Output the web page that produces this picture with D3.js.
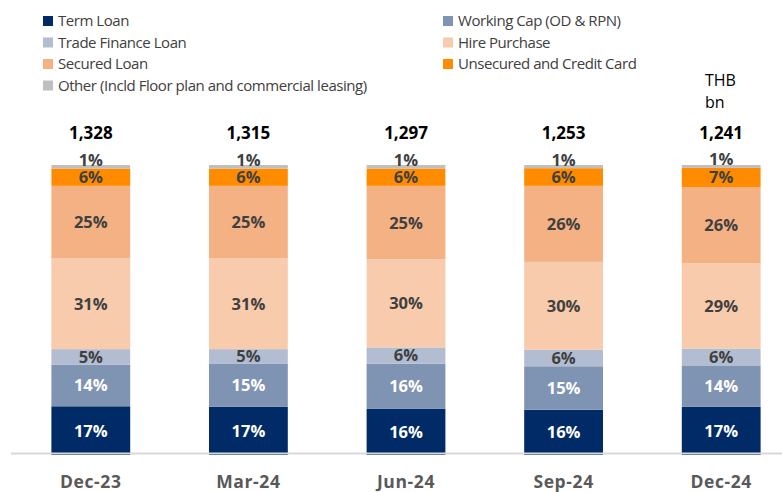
<!DOCTYPE html>
<html>
<head>
<meta charset="utf-8">
<script src="https://cdn.jsdelivr.net/npm/d3@7"></script>
<style>
  body { margin: 0; background: #fff; }
  text { font-family: "Open Sans", "Noto Sans", sans-serif; }
</style>
</head>
<body>
<div id="chart"></div>
<script>
// quarters and loan book totals (THB bn)
var quarters = ["Dec-23", "Mar-24", "Jun-24", "Sep-24", "Dec-24"];
var totals = [1328, 1315, 1297, 1253, 1241];

// share of each product, % (bottom to top)
var termLoan      = [16.8, 16.6, 15.9, 15.6, 16.6];
var workingCap    = [14.3, 14.8, 15.6, 15.0, 14.3];
var tradeFinance  = [5.4, 5.1, 5.6, 5.7, 5.8];
var hirePurchase  = [31.4, 31.4, 30.4, 30.3, 29.4];
var securedLoan   = [24.9, 24.9, 25.3, 26.2, 26.3];
var unsecuredCard = [6.0, 6.0, 6.0, 6.1, 6.6];
var otherLoan     = [1.2, 1.2, 1.2, 1.1, 1.0];

var seriesNames = ["Term Loan", "Working Cap (OD & RPN)", "Trade Finance Loan", "Hire Purchase",
                   "Secured Loan", "Unsecured and Credit Card", "Other (Incld Floor plan and commercial leasing)"];
var seriesValues = [termLoan, workingCap, tradeFinance, hirePurchase, securedLoan, unsecuredCard, otherLoan];
var colors = ["#002b66", "#7f93b2", "#b2bdd2", "#f8cbad", "#f4b183", "#ff8c00", "#bfbfbf"];
var labelColors = ["#fff", "#fff", "#404040", "#404040", "#404040", "#404040", "#404040"];

var width = 782, height = 492;

var rows = quarters.map(function(q, i){
    var r = { quarter: q };
    seriesNames.forEach(function(s, j){ r[s] = seriesValues[j][i]; });
    return r;
});

var stack = d3.stack().keys(seriesNames).offset(d3.stackOffsetExpand);
var layers = stack(rows);

var x = d3.scaleBand()
    .domain(quarters)
    .range([12, 800])
    .paddingInner(0.5)
    .paddingOuter(0.25);

var y = d3.scaleLinear()
    .domain([0, 1])
    .range([455, 165]);

var svg = d3.select("#chart").append("svg")
    .attr("width", width)
    .attr("height", height);

var barLayer = svg.append("g");

var groups = barLayer.selectAll("g.layer")
    .data(layers).enter()
    .append("g")
    .attr("class", "layer")
    .attr("fill", function(d, i){ return colors[i]; });

groups.selectAll("rect")
    .data(function(d){ return d; })
    .enter().append("rect")
    .attr("x", function(d){ return x(d.data.quarter); })
    .attr("width", x.bandwidth())
    .attr("y", function(d){ return y(d[1]); })
    .attr("height", function(d){ return y(d[0]) - y(d[1]); });

// axis line
svg.append("line")
    .attr("x1", 11).attr("x2", width)
    .attr("y1", 453.5).attr("y2", 453.5)
    .attr("stroke", "#d9d9d9")
    .attr("stroke-width", 2);

// percentage labels; the thin top slice gets its label lifted above the bar
layers.forEach(function(layer, i){
    var lift = (i === layers.length - 1) ? -7 : 0;
    svg.append("g").selectAll("text")
        .data(layer).enter()
        .append("text")
        .attr("x", function(d){ return x(d.data.quarter) + x.bandwidth() / 2; })
        .attr("y", function(d){ return (y(d[0]) + y(d[1])) / 2 + lift; })
        .attr("dy", "0.36em")
        .attr("text-anchor", "middle")
        .attr("font-size", "16.5px")
        .attr("font-weight", "bold")
        .attr("fill", labelColors[i])
        .text(function(d){ return Math.round(d.data[layer.key]) + "%"; });
});

// totals
svg.append("g").selectAll("text")
    .data(quarters).enter()
    .append("text")
    .attr("x", function(d){ return x(d) + x.bandwidth() / 2; })
    .attr("y", 139)
    .attr("text-anchor", "middle")
    .attr("font-size", "17px")
    .attr("font-weight", "bold")
    .attr("fill", "#000")
    .text(function(d, i){ return d3.format(",")(totals[i]); });

// category axis labels
svg.append("g").selectAll("text")
    .data(quarters).enter()
    .append("text")
    .attr("x", function(d){ return x(d) + x.bandwidth() / 2; })
    .attr("y", 482)
    .attr("dy", "0.35em")
    .attr("text-anchor", "middle")
    .attr("font-size", "17.5px")
    .attr("font-weight", "bold")
    .attr("letter-spacing", "0.6px")
    .attr("fill", "#595959")
    .text(function(d){ return d; });

// unit
svg.append("text").attr("x", 705).attr("y", 86)
    .attr("font-size", "16px").attr("fill", "#000").text("THB");
svg.append("text").attr("x", 705).attr("y", 108)
    .attr("font-size", "16px").attr("fill", "#000").text("bn");

// legend, two columns
var legend = svg.append("g").selectAll("g")
    .data(seriesNames).enter()
    .append("g")
    .attr("transform", function(d, i){
        var col = i % 2, row = Math.floor(i / 2);
        return "translate(" + (col ? 443 : 43) + "," + (21 + row * 21.5) + ")";
    });

legend.append("rect")
    .attr("x", 0).attr("y", -5)
    .attr("width", 10).attr("height", 10)
    .attr("fill", function(d, i){ return colors[i]; });

legend.append("text")
    .attr("x", 15)
    .attr("dy", "0.35em")
    .attr("font-size", "15px")
    .attr("letter-spacing", "-0.45px")
    .attr("fill", "#404040")
    .text(function(d){ return d; });
</script>
</body>
</html>
